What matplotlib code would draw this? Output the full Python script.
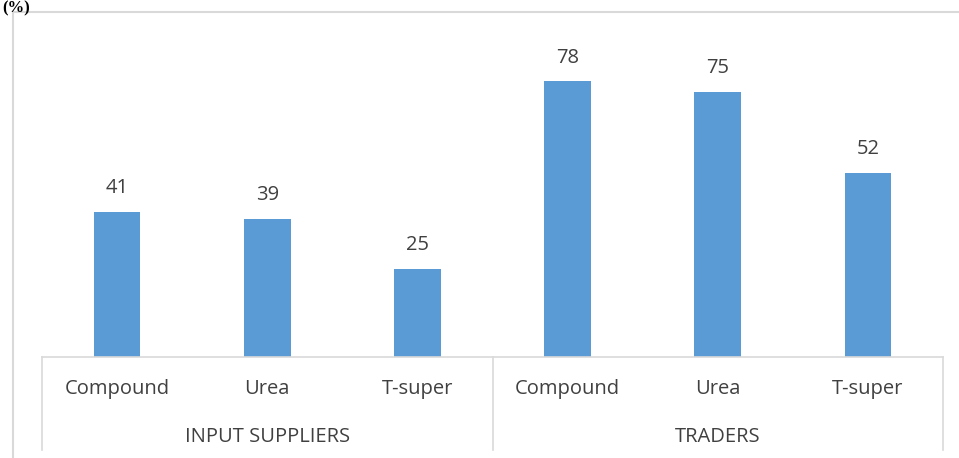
import matplotlib.pyplot as plt
from matplotlib.lines import Line2D

# --- DATA ---
groups     = ['INPUT SUPPLIERS', 'TRADERS']
categories = ['Compound', 'Urea', 'T-super']
input_suppliers = [41, 39, 25]
traders         = [78, 75, 52]

W, H = 959, 458
fig = plt.figure(figsize=(W / 100, H / 100), dpi=100)
plt.rcParams['font.family'] = ['Open Sans', 'DejaVu Sans']
FS = 14.5
TXT = '#404040'
GRID = '#D9D9D9'

# plot area in pixel coords
x0, x1, yb, yt = 42, 943, 357, 39
ax = fig.add_axes([x0 / W, 1 - yb / H, (x1 - x0) / W, (yb - yt) / H])

values = input_suppliers + traders
labels = categories * len(groups)
xs = list(range(len(values)))
ax.bar(xs, values, width=0.31, color='#5B9BD5')
for x, v in zip(xs, values):
    ax.annotate(str(v), (x, v), xytext=(0, 10), textcoords='offset points',
                ha='center', va='bottom', fontsize=FS, color=TXT)

ax.set_xlim(-0.5, len(values) - 0.5)
ax.set_ylim(0, 90)
ax.set_yticks([])
ax.set_xticks(xs)
ax.set_xticklabels(labels, fontsize=FS, color=TXT)
ax.tick_params(axis='x', length=0, pad=16)
for s in ['top', 'right', 'left']:
    ax.spines[s].set_visible(False)
ax.spines['bottom'].set_color(GRID)
ax.spines['bottom'].set_linewidth(1.2)

# group labels and separators (figure pixel coords)
def fx(px): return px / W
def fy(py): return 1 - py / H

for px in [42, 493, 943]:
    fig.add_artist(Line2D([fx(px), fx(px)], [fy(357), fy(450)], color=GRID, lw=1.2))
gw = (x1 - x0) / len(groups)
for i, g in enumerate(groups):
    fig.text(fx(x0 + gw * (i + 0.5)), fy(437), g, ha='center', va='center',
             fontsize=FS, color=TXT)

# outer chart border (left + top)
fig.add_artist(Line2D([fx(13), fx(13)], [fy(12), fy(458)], color=GRID, lw=1.5))
fig.add_artist(Line2D([fx(13), fx(958)], [fy(12), fy(12)], color=GRID, lw=1.5))

# axis unit label
fig.text(fx(2), fy(0), '(%)', ha='left', va='top', fontsize=12,
         fontweight='bold', family='Liberation Serif', color='black')

fig.savefig('out.png', dpi=100)
